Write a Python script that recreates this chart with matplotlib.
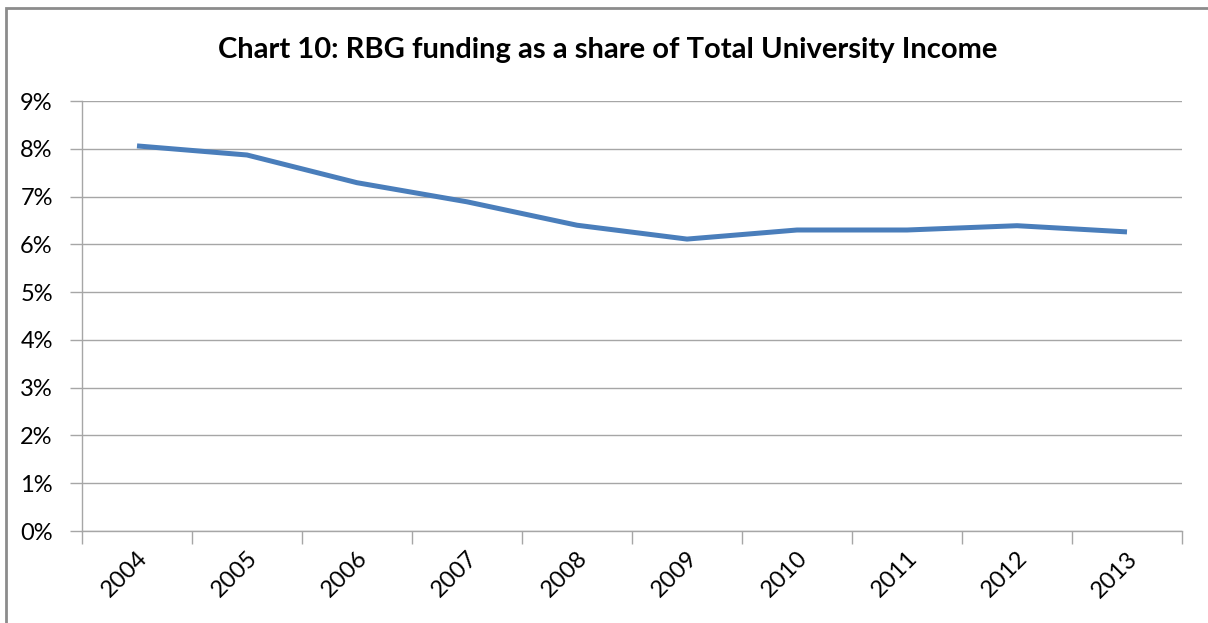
import matplotlib
matplotlib.use("Agg")
import matplotlib.pyplot as plt
from matplotlib.patches import Rectangle
from matplotlib.ticker import FuncFormatter, MultipleLocator

years = ["2004", "2005", "2006", "2007", "2008", "2009", "2010", "2011", "2012", "2013"]
rbg_share = [8.06, 7.87, 7.29, 6.89, 6.40, 6.11, 6.30, 6.30, 6.39, 6.26]

title = "Chart 10: RBG funding as a share of Total University Income"

W, H = 1208, 623
plt.rcParams["font.family"] = ["Lato", "DejaVu Sans"]

fig = plt.figure(figsize=(W / 100, H / 100), dpi=100)
fig.patch.set_facecolor("white")

# outer chart frame (open on the right and bottom edges)
fig.patches.append(Rectangle((6 / W, -0.1), 1.2, (H - 8) / H + 0.1,
                             transform=fig.transFigure, fill=False,
                             edgecolor="#8c8c8c", linewidth=2.0))

ax = fig.add_axes([82 / W, (H - 531) / H, 1100 / W, 430 / H])
x = list(range(len(years)))
ax.plot(x, rbg_share, color="#4A7EBB", linewidth=3.6, solid_capstyle="butt",
        solid_joinstyle="round", zorder=3)

ax.set_xlim(-0.5, len(years) - 0.5)
ax.set_ylim(0, 9)
ax.yaxis.set_major_locator(MultipleLocator(1))
ax.yaxis.set_major_formatter(FuncFormatter(lambda v, p: f"{v:.0f}%"))
ax.grid(axis="y", color="#a6a6a6", linewidth=1.0)
ax.set_axisbelow(True)

for s in ["top", "right"]:
    ax.spines[s].set_visible(False)
for s in ["left", "bottom"]:
    ax.spines[s].set_color("#a6a6a6")
    ax.spines[s].set_linewidth(1.0)

# category ticks sit between the year positions
ax.set_xticks([i - 0.5 for i in range(len(years) + 1)], minor=False)
ax.set_xticklabels([])
ax.tick_params(axis="x", which="major", length=9, color="#a6a6a6", width=1.0)
ax.set_xticks(x, minor=True)
ax.set_xticklabels(years, minor=True, rotation=45, ha="right",
                   rotation_mode="anchor", fontsize=17)
ax.tick_params(axis="x", which="minor", length=0, pad=12)
ax.tick_params(axis="y", length=9, color="#a6a6a6", width=1.0, labelsize=17,
               pad=12)

fig.text(608 / W, 1 - 50 / H, title, ha="center", va="center",
         fontsize=21, fontweight="bold", color="black")

fig.savefig("out.png", dpi=100, facecolor="white")
